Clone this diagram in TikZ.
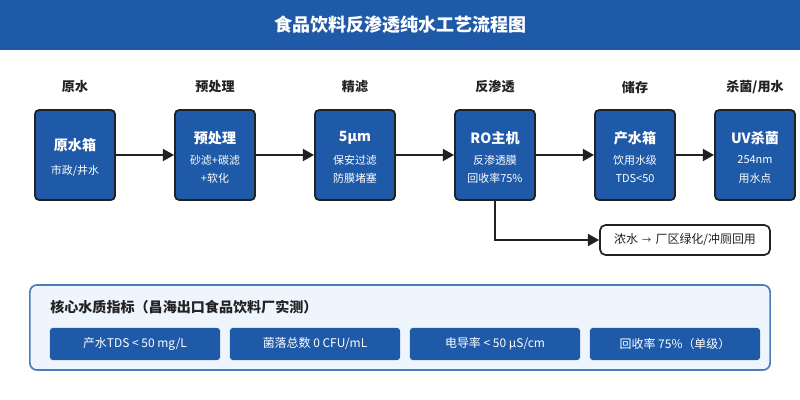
\documentclass[tikz,border=0pt]{standalone}
\usepackage{fontspec}
\setmainfont{Noto Sans CJK SC}
\usepackage{tikz}
\usetikzlibrary{arrows.meta}
\definecolor{hdrblue}{HTML}{1F5AA8}
\definecolor{panelfill}{HTML}{EEF5FD}
\definecolor{panelline}{HTML}{4A7CC0}
\definecolor{ink}{HTML}{222222}
\tikzstyle{diagram}=[x=0.025cm, y=-0.025cm, font=\fontsize{8}{10}\selectfont]
\tikzstyle{header}=[rectangle, fill=hdrblue, text=white, minimum width=20cm, minimum height=1.25cm, inner sep=0pt, font=\fontsize{12.8}{15}\selectfont\bfseries]
\tikzstyle{phase}=[text=ink, inner sep=1pt, font=\fontsize{9.3}{11}\selectfont\bfseries]
\tikzstyle{stage}=[rectangle, rounded corners=3pt, draw=ink, line width=1.3pt, fill=hdrblue, minimum width=2cm, minimum height=2.25cm, inner sep=0pt]
\tikzstyle{bt}=[text=white, inner sep=1pt, font=\fontsize{10}{12}\selectfont\bfseries]
\tikzstyle{bs}=[text=white, inner sep=1pt, font=\fontsize{7.8}{9}\selectfont]
\tikzstyle{flow}=[line width=1.5pt, draw=ink, -{Triangle[length=8pt, width=8.5pt]}]
\tikzstyle{drain}=[rectangle, rounded corners=4pt, draw=ink, line width=1.2pt, fill=white, minimum width=4.25cm, minimum height=0.75cm, text=ink, font=\fontsize{8.5}{10}\selectfont]
\tikzstyle{panel}=[rectangle, rounded corners=5pt, draw=panelline, line width=1.2pt, fill=panelfill, minimum width=18.5cm, minimum height=2.125cm, inner sep=0pt]
\tikzstyle{ptitle}=[anchor=west, inner sep=0pt, text=ink, font=\fontsize{10}{12}\selectfont\bfseries]
\tikzstyle{chip}=[rectangle, rounded corners=2pt, fill=hdrblue, text=white, minimum width=4.25cm, minimum height=0.8cm, inner sep=0pt, font=\fontsize{8.5}{10}\selectfont]
\newcommand{\phaseY}{87}
\newcommand{\stageY}{155}
\newcommand{\titleY}{138}
\newcommand{\subAY}{160}
\newcommand{\subBY}{178}
\newcommand{\chipY}{344}
\newcommand{\smallarrow}{\hspace{3pt}{\fontsize{6.5}{8}\selectfont →}\hspace{3pt}}

\begin{document}
\begin{tikzpicture}[diagram]
	\useasboundingbox (0,0) rectangle (800,400);
	%The header bar
	\node[header] (hdr) at (400,25) {食品饮料反渗透纯水工艺流程图};

	%The phase labels
	\node[phase] (p1) at (75,\phaseY) {原水};
	\node[phase] (p2) at (215,\phaseY) {预处理};
	\node[phase] (p3) at (355,\phaseY) {精滤};
	\node[phase] (p4) at (495,\phaseY) {反渗透};
	\node[phase] (p5) at (635,\phaseY) {储存};
	\node[phase] (p6) at (755,\phaseY) {杀菌/用水};

	%The process boxes
	\node[stage] (tank) at (75,\stageY) {};
	\node[stage] (pre) at (215,\stageY) {};
	\node[stage] (fine) at (355,\stageY) {};
	\node[stage] (ro) at (495,\stageY) {};
	\node[stage] (store) at (635,\stageY) {};
	\node[stage] (uv) at (755,\stageY) {};

	%The box texts
	\node[bt] (tank-t) at (75,145) {原水箱};
	\node[bs] (tank-a) at (75,171) {市政/井水};
	\node[bt] (pre-t) at (215,\titleY) {预处理};
	\node[bs] (pre-a) at (215,\subAY) {砂滤+碳滤};
	\node[bs] (pre-b) at (215,\subBY) {+软化};
	\node[bt] (fine-t) at (355,\titleY) {5μm};
	\node[bs] (fine-a) at (355,\subAY) {保安过滤};
	\node[bs] (fine-b) at (355,\subBY) {防膜堵塞};
	\node[bt] (ro-t) at (495,\titleY) {RO主机};
	\node[bs] (ro-a) at (495,\subAY) {反渗透膜};
	\node[bs] (ro-b) at (495,\subBY) {回收率75\%};
	\node[bt] (store-t) at (635,\titleY) {产水箱};
	\node[bs] (store-a) at (635,\subAY) {饮用水级};
	\node[bs] (store-b) at (635,\subBY) {TDS<50};
	\node[bt] (uv-t) at (755,\titleY) {UV杀菌};
	\node[bs] (uv-a) at (755,\subAY) {254nm};
	\node[bs] (uv-b) at (755,\subBY) {用水点};

	%The main flow
	\draw[flow] (tank) -- (pre);
	\draw[flow] (pre) -- (fine);
	\draw[flow] (fine) -- (ro);
	\draw[flow] (ro) -- (store);
	\draw[flow] (store) -- (uv);

	%The concentrate branch
	\node[drain] (reuse) at (685,240) {浓水\smallarrow 厂区绿化/冲厕回用};
	\draw[flow] (ro.south) |- (reuse.west);

	%The quality panel
	\node[panel] (core) at (400,327.5) {};
	\node[ptitle] (core-t) at (50,307) {核心水质指标（昌海出口食品饮料厂实测）};
	\node[chip] (tds) at (135,\chipY) {产水TDS < 50 mg/L};
	\node[chip] (cfu) at (315,\chipY) {菌落总数 0 CFU/mL};
	\node[chip] (cond) at (495,\chipY) {电导率 < 50 μS/cm};
	\node[chip] (rate) at (675,\chipY) {回收率 75\%（单级）};
\end{tikzpicture}
\end{document}
